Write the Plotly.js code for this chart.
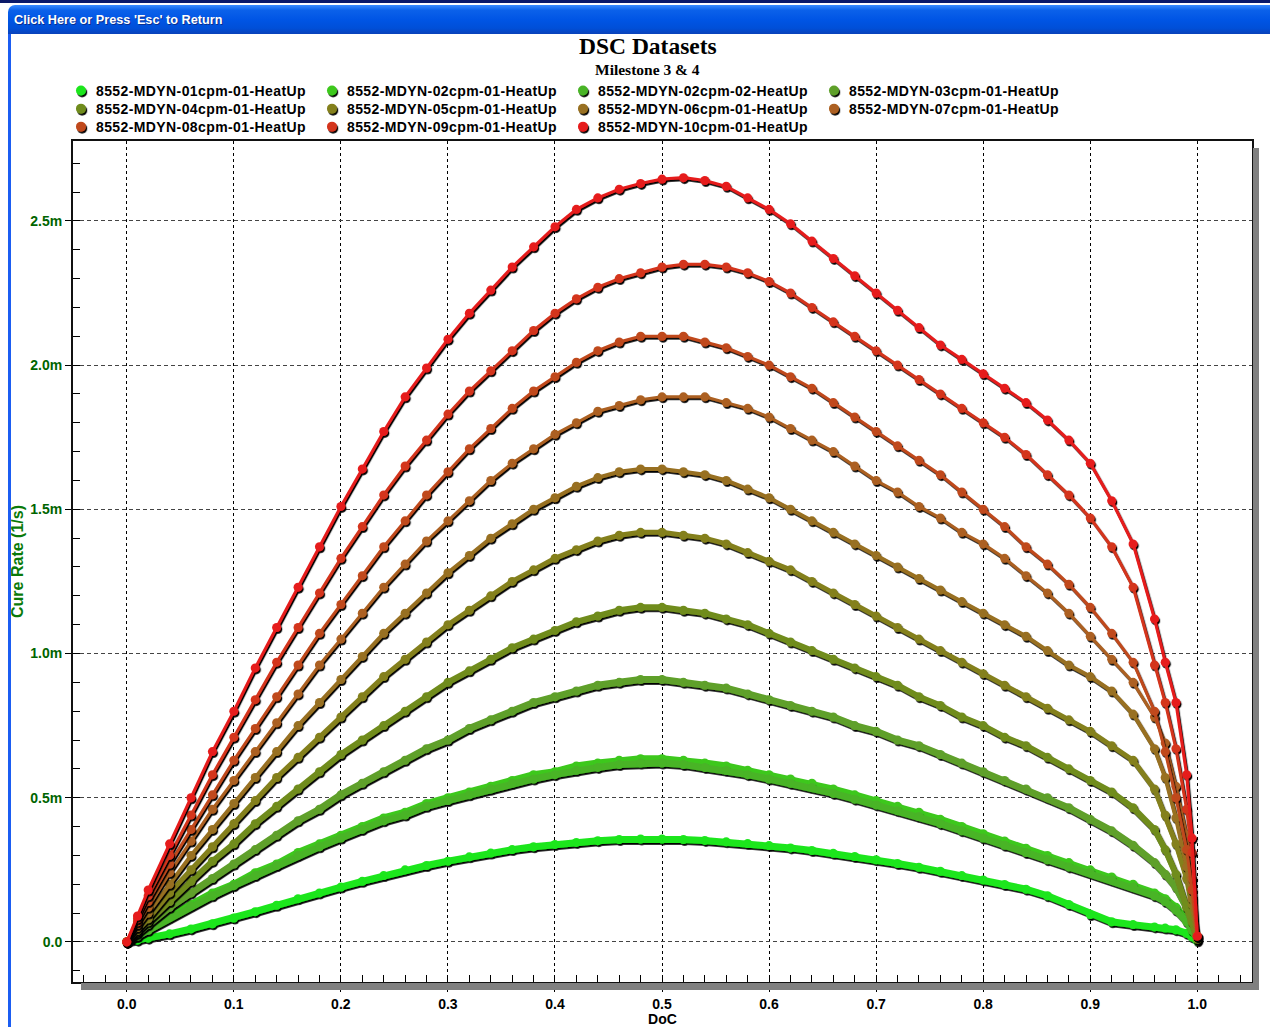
<!DOCTYPE html>
<html>
<head>
<meta charset="utf-8">
<title>DSC Datasets</title>
<script src="https://cdn.plot.ly/plotly-3.0.1.min.js"></script>
<style>
  html, body { margin: 0; padding: 0; background: #ffffff; width: 1270px; height: 1027px; overflow: hidden; }
  #topline { position: absolute; left: 0; top: 0; width: 1270px; height: 3px; background: #0b1a6a; }
  #titlebar { position: absolute; left: 8px; top: 5px; width: 1262px; height: 29px; border-top-left-radius: 7px;
              background: linear-gradient(#3b8cff 0%, #0b61ea 18%, #0055e5 50%, #004fd8 80%, #0a42b9 100%); }
  #titlebar span { position: absolute; left: 6px; top: 8px; color: #fff; white-space: nowrap;
                   font: bold 12.7px "Liberation Sans", Arial, sans-serif; text-shadow: 1px 1px 0 #0a2f8f; }
  #leftedge { position: absolute; left: 8px; top: 34px; width: 3px; height: 993px; background: #1b5df2; }
  #chart { position: absolute; left: 0; top: 0; width: 1270px; height: 1027px; }
  .js-plotly-plot .scatterlayer .trace { filter: url(#dropshade); }
</style>
</head>
<body>
<svg width="0" height="0" style="position:absolute">
  <defs>
    <filter id="dropshade" x="-10%" y="-10%" width="130%" height="130%">
      <feDropShadow dx="1.2" dy="1.8" stdDeviation="0.4" flood-color="#000" flood-opacity="1"/>
    </filter>
  </defs>
</svg>
<div id="chart"></div>
<div id="topline"></div>
<div id="titlebar"><span>Click Here or Press 'Esc' to Return</span></div>
<div id="leftedge"></div>
<script>
// Degree of cure sample points shared by every run
const doc = [0, 0.01, 0.02, 0.04, 0.06, 0.08, 0.10, 0.12, 0.14, 0.16,
  0.18, 0.20, 0.22, 0.24, 0.26, 0.28, 0.30, 0.32, 0.34, 0.36,
  0.38, 0.40, 0.42, 0.44, 0.46, 0.48, 0.50, 0.52, 0.54, 0.56,
  0.58, 0.60, 0.62, 0.64, 0.66, 0.68, 0.70, 0.72, 0.74, 0.76,
  0.78, 0.80, 0.82, 0.84, 0.86, 0.88, 0.90, 0.92, 0.94, 0.96,
  0.97, 0.98, 0.99, 0.995, 1.00];

const runNames = [
  '8552-MDYN-01cpm-01-HeatUp', '8552-MDYN-02cpm-01-HeatUp', '8552-MDYN-02cpm-02-HeatUp', '8552-MDYN-03cpm-01-HeatUp',
  '8552-MDYN-04cpm-01-HeatUp', '8552-MDYN-05cpm-01-HeatUp', '8552-MDYN-06cpm-01-HeatUp', '8552-MDYN-07cpm-01-HeatUp',
  '8552-MDYN-08cpm-01-HeatUp', '8552-MDYN-09cpm-01-HeatUp', '8552-MDYN-10cpm-01-HeatUp'
];

// Cure rate of each heat-up run, in milli (1/s)
const rate01cpm01 = [0, 0.006, 0.013, 0.028, 0.045, 0.063, 0.083, 0.105, 0.127, 0.15,
  0.17, 0.19, 0.21, 0.23, 0.25, 0.265, 0.28, 0.295, 0.308, 0.32,
  0.33, 0.338, 0.345, 0.351, 0.355, 0.357, 0.357, 0.355, 0.352, 0.347,
  0.341, 0.334, 0.326, 0.317, 0.307, 0.296, 0.285, 0.272, 0.259, 0.245,
  0.23, 0.215, 0.199, 0.183, 0.16, 0.13, 0.095, 0.07, 0.06, 0.052,
  0.048, 0.042, 0.03, 0.018, 0.004];
const rate02cpm01 = [0, 0.02, 0.045, 0.09, 0.13, 0.17, 0.20, 0.24, 0.27, 0.31,
  0.34, 0.37, 0.40, 0.43, 0.45, 0.48, 0.50, 0.52, 0.54, 0.56,
  0.58, 0.59, 0.61, 0.62, 0.63, 0.635, 0.635, 0.63, 0.62, 0.61,
  0.595, 0.58, 0.565, 0.55, 0.53, 0.51, 0.49, 0.47, 0.45, 0.425,
  0.40, 0.375, 0.35, 0.325, 0.30, 0.275, 0.25, 0.225, 0.20, 0.17,
  0.15, 0.12, 0.075, 0.045, 0.01];
const rate02cpm02 = [0, 0.02, 0.04, 0.085, 0.125, 0.16, 0.195, 0.23, 0.265, 0.30,
  0.33, 0.36, 0.39, 0.42, 0.44, 0.47, 0.49, 0.51, 0.53, 0.55,
  0.565, 0.58, 0.595, 0.605, 0.615, 0.62, 0.62, 0.615, 0.605, 0.595,
  0.58, 0.565, 0.55, 0.535, 0.515, 0.495, 0.475, 0.455, 0.435, 0.41,
  0.385, 0.36, 0.335, 0.31, 0.285, 0.26, 0.24, 0.215, 0.19, 0.16,
  0.14, 0.11, 0.07, 0.04, 0.01];
const rate03cpm01 = [0, 0.03, 0.06, 0.12, 0.17, 0.22, 0.27, 0.32, 0.37, 0.42,
  0.46, 0.51, 0.55, 0.59, 0.63, 0.67, 0.70, 0.74, 0.77, 0.80,
  0.83, 0.85, 0.87, 0.89, 0.90, 0.91, 0.91, 0.90, 0.89, 0.88,
  0.86, 0.84, 0.82, 0.80, 0.78, 0.75, 0.73, 0.70, 0.68, 0.65,
  0.62, 0.59, 0.56, 0.53, 0.50, 0.465, 0.425, 0.385, 0.335, 0.275,
  0.235, 0.19, 0.12, 0.07, 0.01];
const rate04cpm01 = [0, 0.035, 0.07, 0.14, 0.21, 0.28, 0.34, 0.41, 0.47, 0.53,
  0.59, 0.65, 0.70, 0.75, 0.80, 0.85, 0.90, 0.94, 0.98, 1.02,
  1.05, 1.08, 1.11, 1.13, 1.15, 1.16, 1.16, 1.15, 1.14, 1.12,
  1.10, 1.07, 1.04, 1.01, 0.98, 0.95, 0.92, 0.89, 0.85, 0.82,
  0.78, 0.75, 0.71, 0.68, 0.64, 0.60, 0.56, 0.52, 0.465, 0.39,
  0.32, 0.235, 0.12, 0.07, 0.01];
const rate05cpm01 = [0, 0.04, 0.08, 0.17, 0.25, 0.33, 0.41, 0.49, 0.57, 0.64,
  0.71, 0.78, 0.85, 0.92, 0.98, 1.04, 1.10, 1.15, 1.20, 1.25,
  1.29, 1.33, 1.36, 1.39, 1.41, 1.42, 1.42, 1.41, 1.40, 1.38,
  1.35, 1.32, 1.29, 1.25, 1.21, 1.17, 1.13, 1.09, 1.05, 1.01,
  0.97, 0.93, 0.89, 0.85, 0.81, 0.77, 0.73, 0.68, 0.63, 0.53,
  0.44, 0.34, 0.22, 0.13, 0.02];
const rate06cpm01 = [0, 0.05, 0.10, 0.20, 0.30, 0.39, 0.48, 0.57, 0.66, 0.75,
  0.83, 0.91, 0.99, 1.07, 1.14, 1.21, 1.28, 1.34, 1.40, 1.45,
  1.50, 1.54, 1.58, 1.61, 1.63, 1.64, 1.64, 1.63, 1.62, 1.60,
  1.57, 1.54, 1.50, 1.46, 1.42, 1.38, 1.34, 1.30, 1.26, 1.22,
  1.18, 1.14, 1.10, 1.06, 1.01, 0.96, 0.92, 0.87, 0.79, 0.67,
  0.57, 0.43, 0.26, 0.15, 0.02];
const rate07cpm01 = [0, 0.06, 0.12, 0.24, 0.35, 0.46, 0.56, 0.66, 0.76, 0.86,
  0.96, 1.05, 1.14, 1.23, 1.31, 1.39, 1.46, 1.53, 1.60, 1.66,
  1.71, 1.76, 1.80, 1.84, 1.86, 1.88, 1.89, 1.89, 1.89, 1.87,
  1.85, 1.82, 1.78, 1.74, 1.70, 1.65, 1.60, 1.56, 1.51, 1.47,
  1.42, 1.38, 1.33, 1.27, 1.21, 1.14, 1.06, 0.98, 0.90, 0.78,
  0.69, 0.54, 0.37, 0.22, 0.02];
const rate08cpm01 = [0, 0.07, 0.14, 0.27, 0.39, 0.51, 0.63, 0.74, 0.85, 0.96,
  1.07, 1.17, 1.27, 1.37, 1.46, 1.55, 1.63, 1.71, 1.78, 1.85,
  1.91, 1.96, 2.01, 2.05, 2.08, 2.10, 2.10, 2.10, 2.08, 2.06,
  2.03, 2.00, 1.96, 1.92, 1.87, 1.82, 1.77, 1.72, 1.67, 1.62,
  1.56, 1.50, 1.44, 1.37, 1.31, 1.24, 1.16, 1.07, 0.97, 0.80,
  0.66, 0.50, 0.32, 0.18, 0.02];
const rate09cpm01 = [0, 0.08, 0.16, 0.30, 0.44, 0.58, 0.71, 0.84, 0.97, 1.09,
  1.21, 1.33, 1.44, 1.55, 1.65, 1.74, 1.83, 1.91, 1.98, 2.05,
  2.12, 2.18, 2.23, 2.27, 2.30, 2.32, 2.34, 2.35, 2.35, 2.34,
  2.32, 2.29, 2.25, 2.20, 2.15, 2.10, 2.05, 2.00, 1.95, 1.90,
  1.85, 1.80, 1.75, 1.69, 1.62, 1.55, 1.47, 1.37, 1.23, 0.96,
  0.83, 0.67, 0.46, 0.31, 0.02];
const rate10cpm01 = [0, 0.09, 0.18, 0.34, 0.50, 0.66, 0.80, 0.95, 1.09, 1.23,
  1.37, 1.51, 1.64, 1.77, 1.89, 1.99, 2.09, 2.18, 2.26, 2.34,
  2.41, 2.48, 2.54, 2.58, 2.61, 2.63, 2.645, 2.65, 2.64, 2.62,
  2.58, 2.54, 2.49, 2.43, 2.37, 2.31, 2.25, 2.19, 2.13, 2.07,
  2.02, 1.97, 1.92, 1.87, 1.81, 1.74, 1.66, 1.53, 1.38, 1.12,
  0.97, 0.83, 0.58, 0.36, 0.02];

const runRates = [rate01cpm01, rate02cpm01, rate02cpm02, rate03cpm01, rate04cpm01, rate05cpm01,
  rate06cpm01, rate07cpm01, rate08cpm01, rate09cpm01, rate10cpm01];

// Green-to-red ramp, slowest heating rate first
const runColors = ['#1ee61e', '#3cc81e', '#48b428', '#5ea02a', '#708c1e', '#84801e', '#987020',
  '#ac6020', '#c04a1e', '#d4341e', '#e61e1e'];
const runLineWidths = [7, 7, 7, 7, 6, 5, 4, 3, 3, 3, 3];
const legendSlots = ['legend', 'legend', 'legend', 'legend', 'legend2', 'legend2', 'legend2', 'legend2',
  'legend3', 'legend3', 'legend3'];

const FONT = '"Liberation Sans", Arial, sans-serif';
const traces = [];
runRates.forEach((rates, i) => {
  traces.push({
    type: 'scatter', mode: 'lines+markers', x: doc, y: rates,
    name: runNames[i], legendgroup: runNames[i], showlegend: false,
    line: { color: runColors[i], width: runLineWidths[i] },
    marker: { color: runColors[i], size: 9, symbol: 'circle', line: { width: 0 } }
  });
});
// Marker-only legend keys, grouped with their curves
runNames.forEach((name, i) => {
  traces.push({
    type: 'scatter', mode: 'markers', x: [null], y: [null],
    name: name, legendgroup: name, legend: legendSlots[i], showlegend: true,
    marker: { color: runColors[i], size: 10, symbol: 'circle', line: { width: 0 } }
  });
});

const legendBase = {
  orientation: 'h', xanchor: 'left', yanchor: 'middle', x: -0.0102,
  entrywidth: 206, entrywidthmode: 'pixels', itemwidth: 30,
  bgcolor: 'rgba(0,0,0,0)', borderwidth: 0,
  font: { family: FONT, size: 14, color: '#000', weight: 'bold' }
};

const layout = {
  width: 1270, height: 1027,
  margin: { l: 73, r: 18, t: 141, b: 45, autoexpand: false },
  paper_bgcolor: 'rgba(0,0,0,0)', plot_bgcolor: '#ffffff',
  hovermode: false,
  legend: Object.assign({}, legendBase, { y: 1.0595 }),
  legend2: Object.assign({}, legendBase, { y: 1.0380 }),
  legend3: Object.assign({}, legendBase, { y: 1.0166 }),
  xaxis: {
    range: [-0.0502, 1.0511], tickmode: 'linear', tick0: 0, dtick: 0.1, tickformat: '.1f',
    ticks: 'outside', ticklen: 8, tickwidth: 1, tickcolor: '#000',
    showgrid: true, gridcolor: '#000', gridwidth: 1, griddash: '3px,3px',
    zeroline: false, showline: true, mirror: true, linecolor: '#111', linewidth: 2,
    minor: { tickmode: 'linear', tick0: 0, dtick: 0.02, ticks: 'inside', ticklen: 7, tickwidth: 1, tickcolor: '#000', showgrid: false },
    tickfont: { family: FONT, size: 14, color: '#000', weight: 'bold' },
    title: { text: 'DoC', standoff: 5, font: { family: FONT, size: 14, color: '#000', weight: 'bold' } }
  },
  yaxis: {
    range: [-0.139, 2.777], tickmode: 'linear', tick0: 0, dtick: 0.5, tickformat: '.1f', ticksuffix: 'm',
    labelalias: { '0.0m': '0.0' },
    ticks: 'outside', ticklen: 6, tickwidth: 1, tickcolor: '#000',
    showgrid: true, gridcolor: '#444', gridwidth: 1, griddash: '4px,3px',
    zeroline: false, showline: true, mirror: true, linecolor: '#111', linewidth: 2,
    minor: { tickmode: 'linear', tick0: 0, dtick: 0.1, ticks: 'inside', ticklen: 7, tickwidth: 1, tickcolor: '#000', showgrid: false },
    tickfont: { family: FONT, size: 14, color: '#006400', weight: 'bold' },
    title: { text: 'Cure Rate (1/s)', standoff: 3, font: { family: FONT, size: 16, color: '#0a7a0a', weight: 'bold' } }
  },
  annotations: [
    { xref: 'paper', yref: 'paper', x: 0.4877, y: 1.1125, xanchor: 'center', yanchor: 'middle', showarrow: false,
      text: 'DSC Datasets', font: { family: '"Liberation Serif", "Times New Roman", serif', size: 23.5, color: '#000', weight: 'bold' } },
    { xref: 'paper', yref: 'paper', x: 0.4877, y: 1.0850, xanchor: 'center', yanchor: 'middle', showarrow: false,
      text: 'Milestone 3 &amp; 4', font: { family: '"Liberation Serif", "Times New Roman", serif', size: 15.5, color: '#000', weight: 'bold' } }
  ],
  shapes: [
    // drop shadow of the plot frame, right and bottom
    { type: 'rect', xref: 'paper', yref: 'paper', xsizemode: 'pixel', xanchor: 1, x0: 1, x1: 7,
      ysizemode: 'pixel', yanchor: 1, y0: -7, y1: -848, fillcolor: '#808080', line: { width: 0 } },
    { type: 'rect', xref: 'paper', yref: 'paper', xsizemode: 'pixel', xanchor: 0, x0: 8, x1: 1186,
      ysizemode: 'pixel', yanchor: 0, y0: -1, y1: -8, fillcolor: '#808080', line: { width: 0 } }
  ]
};

Plotly.newPlot('chart', traces, layout, { displayModeBar: false }).then(gd => {
  // tighten the key-to-label gap and give the keys the same drop shade as the curves
  gd.querySelectorAll('.infolayer text').forEach(t => {
    if (runNames.includes(t.textContent)) {
      t.setAttribute('x', 35);
      t.style.letterSpacing = '0.4px';
    }
  });
  gd.querySelectorAll('.infolayer .legendpoints path').forEach(p => {
    p.style.filter = 'url(#dropshade)';
  });
});
</script>
</body>
</html>
